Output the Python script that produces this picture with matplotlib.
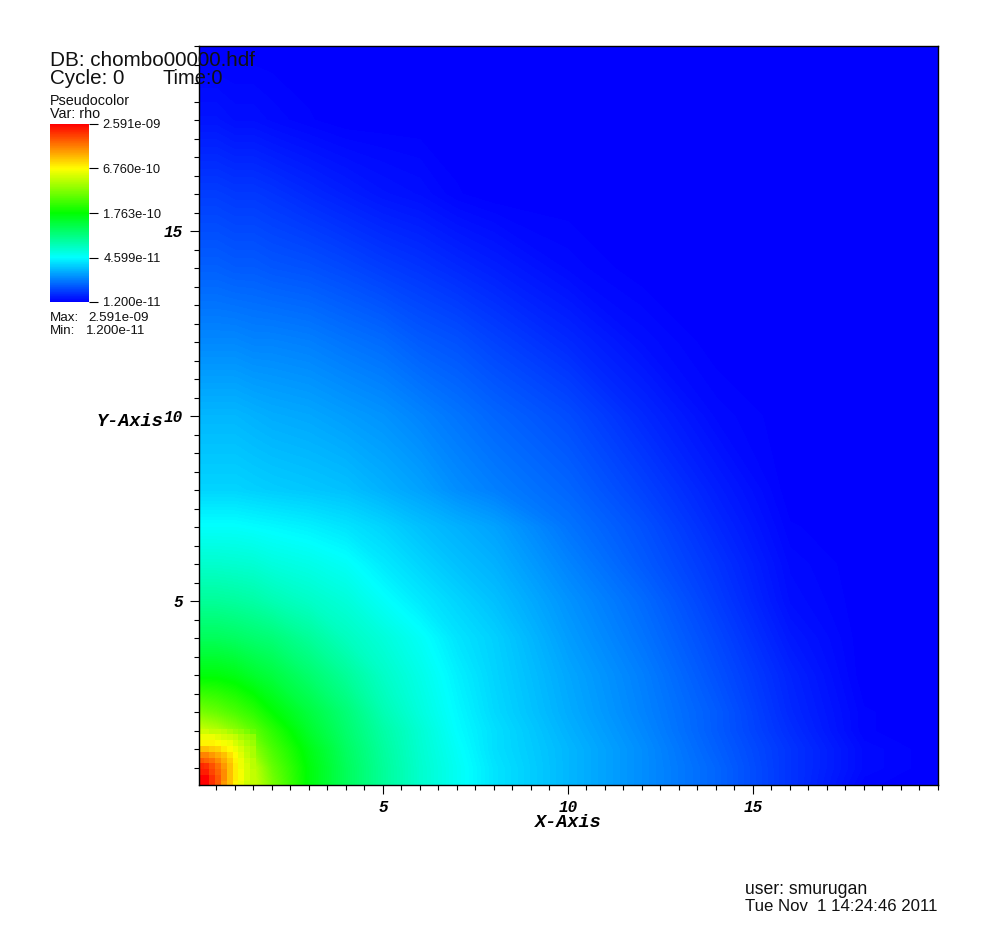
import numpy as np

import matplotlib
matplotlib.use("Agg")
import matplotlib.pyplot as plt
from matplotlib.colors import LinearSegmentedColormap, LogNorm
from matplotlib.cm import ScalarMappable
from matplotlib.ticker import MultipleLocator

W, H = 995, 925

x_knots = [0, 0.5, 1, 1.5, 2, 3, 4, 5, 6, 7, 8, 10, 12, 14, 16, 18, 20]
y_knots = [0, 0.5, 1, 1.5, 2, 3, 4, 5, 6, 7, 8, 10, 12, 14, 16, 18, 20]

# rho in units of 1e-11, rows go up in y
rho_rows = [
    [259, 151, 79.4, 51.7, 33.6, 16.7, 11, 7.9, 6, 4.89, 4.02, 3.16, 2.55, 2.06, 1.58, 1.23, 1.2],
    [151, 116, 71.3, 49, 30, 16.7, 11, 7.9, 6, 4.89, 4.02, 3.16, 2.55, 2.06, 1.58, 1.27, 1.2],
    [79.4, 71.3, 54.7, 37, 25.9, 15.8, 10.6, 7.7, 5.9, 4.77, 3.92, 3.16, 2.55, 2.0, 1.58, 1.27, 1.2],
    [51.7, 46, 37, 28.8, 22, 14, 10, 7.4, 5.8, 4.6, 3.92, 3.07, 2.48, 1.95, 1.53, 1.23, 1.2],
    [33.6, 30, 25.9, 22, 17.6, 12.7, 9.5, 6.9, 5.5, 4.5, 3.8, 2.99, 2.42, 1.95, 1.49, 1.23, 1.2],
    [16.7, 16.7, 15.8, 14, 12.7, 10, 7.9, 6.2, 5.2, 4.3, 3.7, 2.91, 2.36, 1.85, 1.45, 1.2, 1.2],
    [11, 11, 10.6, 10, 9.5, 7.9, 6.47, 5.6, 4.8, 4.02, 3.62, 2.76, 2.23, 1.76, 1.37, 1.2, 1.2],
    [7.9, 7.9, 7.7, 7.4, 6.9, 6.2, 5.6, 4.77, 4.14, 3.7, 3.33, 2.62, 2.12, 1.66, 1.3, 1.2, 1.2],
    [6, 6, 5.9, 5.8, 5.5, 5.2, 4.8, 4.14, 3.7, 3.33, 3.07, 2.42, 1.95, 1.58, 1.27, 1.2, 1.2],
    [4.7, 4.7, 4.7, 4.6, 4.5, 4.3, 4.02, 3.7, 3.33, 3.07, 2.84, 2.23, 1.85, 1.49, 1.23, 1.2, 1.2],
    [3.7, 3.7, 3.7, 3.62, 3.55, 3.45, 3.33, 3.07, 2.84, 2.55, 2.36, 2.06, 1.71, 1.41, 1.2, 1.2, 1.2],
    [3.16, 3.16, 3.16, 3.07, 2.99, 2.91, 2.76, 2.62, 2.42, 2.23, 2.06, 1.8, 1.49, 1.27, 1.2, 1.2, 1.2],
    [2.48, 2.48, 2.48, 2.42, 2.42, 2.36, 2.23, 2.12, 1.95, 1.85, 1.71, 1.49, 1.3, 1.2, 1.2, 1.2, 1.2],
    [2.0, 2.0, 1.95, 1.95, 1.9, 1.85, 1.76, 1.66, 1.58, 1.49, 1.41, 1.27, 1.2, 1.2, 1.2, 1.2, 1.2],
    [1.66, 1.66, 1.62, 1.62, 1.58, 1.49, 1.41, 1.34, 1.3, 1.23, 1.2, 1.2, 1.2, 1.2, 1.2, 1.2, 1.2],
    [1.34, 1.34, 1.3, 1.3, 1.27, 1.23, 1.2, 1.2, 1.2, 1.2, 1.2, 1.2, 1.2, 1.2, 1.2, 1.2, 1.2],
    [1.2, 1.2, 1.2, 1.2, 1.2, 1.2, 1.2, 1.2, 1.2, 1.2, 1.2, 1.2, 1.2, 1.2, 1.2, 1.2, 1.2],
]

# the hot corner, one value per grid cell (same units)
corner_rows = [
    [259, 259, 198, 160, 116, 93, 71.3, 62, 51.7, 49],
    [259, 259, 198, 160, 122, 93, 75, 64, 54.7, 49],
    [220, 220, 178, 151, 122, 93, 75, 64, 54.7, 49],
    [209, 198, 169, 143, 116, 93, 75, 61, 54.7, 46.5],
    [160, 151, 143, 122, 104, 88.5, 71.3, 61, 51.7, 46.5],
    [128, 128, 116, 104, 93, 79.4, 67.6, 58, 49, 43],
    [93, 93, 88.5, 84, 75, 67.6, 61, 54.7, 46.5, 43],
    [71.3, 71.3, 71.3, 67.6, 64, 61, 54.7, 49, 43, 39.5],
    [62, 62, 61, 58, 54.7, 51.7, 49, 43, 39.5, 37.5],
    [51.7, 51.7, 49, 49, 46.5, 43, 39.5, 37.5, 33.6, 30],
]

cbar_ticks = [1.2e-11, 4.599e-11, 1.763e-10, 6.76e-10, 2.591e-9]
cbar_labels = ["1.200e-11", "4.599e-11", "1.763e-10", "6.760e-10", "2.591e-09"]
x_major = [5, 10, 15]
y_major = [5, 10, 15]
rho_min, rho_max = 1.2e-11, 2.591e-9


def px_axes(left, top, right, bottom):
    return fig.add_axes([left / W, 1 - bottom / H, (right - left) / W, (bottom - top) / H])


def label(x, y, s, size):
    fig.text(x / W, 1 - y / H, s, fontsize=size, va="baseline",
             family="Liberation Sans", color="#111111")


fig = plt.figure(figsize=(W / 100, H / 100), dpi=100)

cmap = LinearSegmentedColormap.from_list("rainbow5", ["#0000ff", "#00ffff", "#00ff00", "#ffff00", "#ff0000"], N=256)

ax = px_axes(199, 46, 938, 785)
rho = np.array(rho_rows) * 1e-11
levels = np.linspace(np.log10(rho_min), np.log10(rho_max) + 1e-6, 257)
ax.contourf(x_knots, y_knots, np.log10(rho), levels=levels, cmap=cmap, antialiased=False)

corner = np.array(corner_rows) * 1e-11
edges = np.arange(corner.shape[0] + 1) * 20 / 128
ax.pcolormesh(edges, edges, corner, cmap=cmap, norm=LogNorm(rho_min, rho_max))

ax.set_xlim(0.03, 20)
ax.set_ylim(0.04, 20)

tick_font = dict(family="Liberation Mono", weight="bold", style="italic", size=11.5)
title_font = dict(tick_font, size=13.3)
ax.set_xticks(x_major)
ax.set_yticks(y_major)
ax.set_xticklabels([str(v) for v in x_major], **tick_font)
ax.set_yticklabels([str(v) for v in y_major], **tick_font)
ax.xaxis.set_minor_locator(MultipleLocator(0.5))
ax.yaxis.set_minor_locator(MultipleLocator(0.5))
ax.tick_params(which="major", length=6.5, width=0.8, pad=5)
ax.tick_params(which="minor", length=3.6, width=0.8)
ax.tick_params(axis="x", which="major", pad=4)
for s in ax.spines.values():
    s.set_linewidth(1.0)

fig.text(568 / W, 1 - 822.5 / H, "X-Axis", ha="center", va="center", **title_font)
fig.text(130 / W, 1 - 421 / H, "Y-Axis", ha="center", va="center", **title_font)

cax = px_axes(50, 124, 89, 302)
sm = ScalarMappable(norm=LogNorm(rho_min, rho_max), cmap=cmap)
cb = fig.colorbar(sm, cax=cax, ticks=cbar_ticks)
cb.outline.set_visible(False)
cb.minorticks_off()
cb.set_ticks(cbar_ticks, labels=[""] * len(cbar_ticks))
cax.tick_params(length=6.5, width=0.8)
for v, s in zip(cbar_ticks, cbar_labels):
    cax.text(2.84, v, s, transform=cax.get_yaxis_transform(), ha="right", va="center_baseline",
             fontsize=9.3, family="Liberation Sans", color="#111111", clip_on=False)

label(50, 66, "DB: chombo00000.hdf", 14.9)
label(50, 84, "Cycle: 0", 14.9)
label(163, 84, "Time:0", 14.4)
label(50, 105, "Pseudocolor", 10.4)
label(50, 118, "Var: rho", 10.4)
label(50, 321, "Max:", 9.6)
label(88, 321, "2.591e-09", 9.6)
label(50, 334, "Min:", 9.6)
label(86, 334, "1.200e-11", 9.6)
label(745, 894, "user: smurugan", 12.7)
label(745, 911, "Tue Nov  1 14:24:46 2011", 12.1)

fig.savefig("out.png", dpi=100)
